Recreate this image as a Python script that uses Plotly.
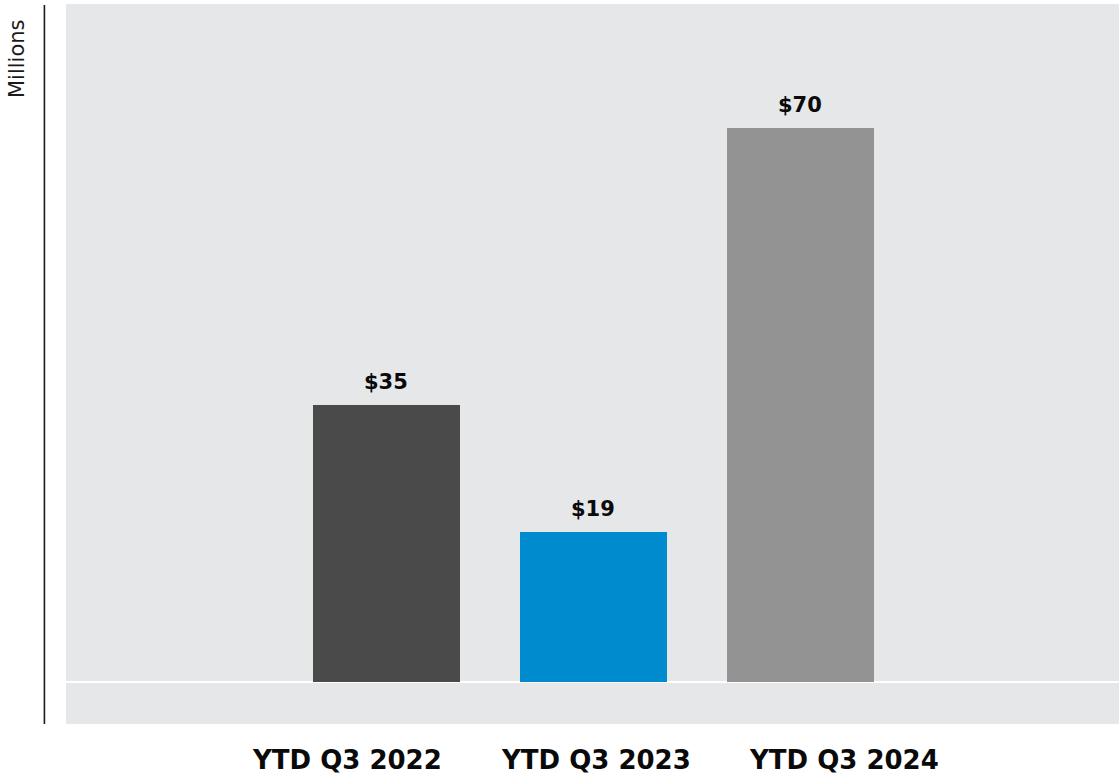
import plotly.graph_objects as go

# Year-to-date Q3 values, in millions of dollars
periods = ["YTD Q3 2022", "YTD Q3 2023", "YTD Q3 2024"]
values = [35, 19, 70]
value_labels = ["$35", "$19", "$70"]
bar_colors = ["#4a4a4a", "#008bce", "#939393"]

# Horizontal placement of the period captions under the plot (paper units)
caption_x = [0.2664, 0.5029, 0.7384]

W, H = 1119, 783
LABEL_FONT = "DejaVu Sans"

fig = go.Figure()

fig.add_trace(go.Bar(
    x=list(range(len(periods))),
    y=values,
    width=0.71,
    marker=dict(color=bar_colors, line=dict(width=0)),
    hoverinfo="skip",
    showlegend=False,
))

annotations = []
# Value labels above each bar
for i, (v, t) in enumerate(zip(values, value_labels)):
    annotations.append(dict(
        x=i, y=v, xref="x", yref="y",
        text=f"<b>{t}</b>", showarrow=False,
        xanchor="center", yanchor="bottom", yshift=9,
        font=dict(family=LABEL_FONT, size=21, color="#0a0a0a"),
    ))

# Period captions below the plot area
for cx, p in zip(caption_x, periods):
    annotations.append(dict(
        x=cx, y=0, xref="paper", yref="paper",
        text=f"<b>{p}</b>", showarrow=False,
        xanchor="center", yanchor="top", yshift=-19,
        font=dict(family=LABEL_FONT, size=26, color="#0a0a0a"),
    ))

# Unit label on the left
annotations.append(dict(
    x=-0.0465, y=0.9236, xref="paper", yref="paper",
    text="Millions", textangle=-90, showarrow=False,
    xanchor="center", yanchor="middle",
    font=dict(family=LABEL_FONT, size=21, color="#1a1a1a"),
))

fig.update_layout(
    width=W, height=H,
    margin=dict(l=66, r=0, t=4, b=59, pad=0),
    paper_bgcolor="#ffffff",
    plot_bgcolor="#e6e7e9",
    bargap=0,
    annotations=annotations,
    shapes=[dict(
        type="line", xref="paper", yref="paper",
        x0=-0.0205, x1=-0.0205, y0=0.0, y1=0.9986,
        line=dict(color="#1a1a1a", width=1.6),
    )],
)

fig.update_xaxes(
    range=[-1.548, 3.539], showgrid=False, zeroline=False,
    showticklabels=False, ticks="", showline=False, fixedrange=True,
)
fig.update_yaxes(
    range=[-5.307, 85.67], showgrid=False, zeroline=True,
    zerolinecolor="#ffffff", zerolinewidth=2.2,
    showticklabels=False, ticks="", showline=False, fixedrange=True,
)

fig.write_html("out.html", config={"displayModeBar": False})
